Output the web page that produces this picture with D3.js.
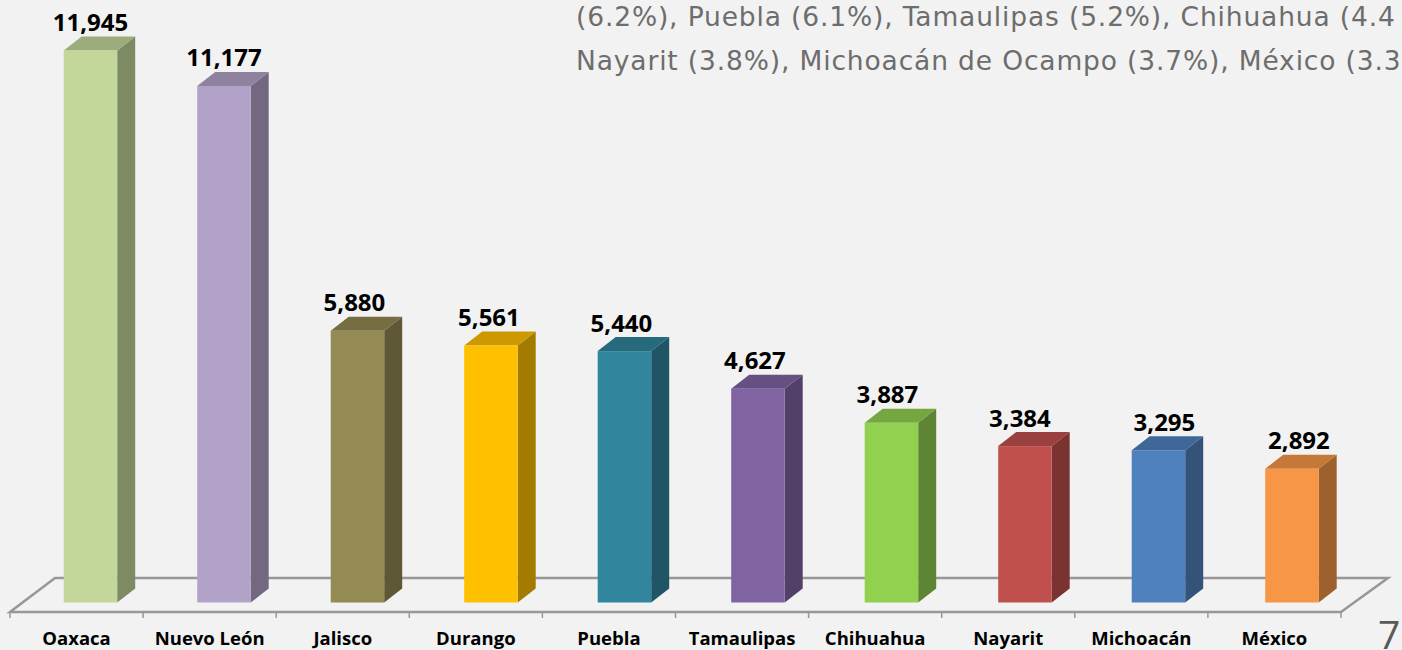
<!DOCTYPE html>
<html>
<head>
<meta charset="utf-8">
<script src="https://cdn.jsdelivr.net/npm/d3@7"></script>
<style>
    html, body { margin: 0; padding: 0; background: #f2f2f2; overflow: hidden; }
    svg { display: block; }
    .value { font: bold 24px "Open Sans", sans-serif; fill: #000; text-anchor: middle; }
    .cat { font: bold 18.5px "Open Sans", sans-serif; fill: #000; text-anchor: middle; }
    .note { font: 26.5px "DejaVu Sans", sans-serif; letter-spacing: .85px; fill: #6d6d6d; }
    .page { font: 400 39px "Open Sans", sans-serif; fill: #595959; }
</style>
</head>
<body>
<div id="main"></div>
<script>
///////////
// SETUP //
///////////

const states = ["Oaxaca", "Nuevo León", "Jalisco", "Durango", "Puebla",
    "Tamaulipas", "Chihuahua", "Nayarit", "Michoacán", "México"]
const values = [11945, 11177, 5880, 5561, 5440, 4627, 3887, 3384, 3295, 2892]
// only the part of the sentence the picture shows
const note_lines = [
    "(6.2%), Puebla (6.1%), Tamaulipas (5.2%), Chihuahua (4.4",
    "Nayarit (3.8%), Michoacán de Ocampo (3.7%), México (3.3"
]
const page_number = "7"

const colors = ["#c4d79b", "#b3a2c7", "#948a54", "#ffc000", "#31859c",
    "#8064a2", "#92d050", "#c0504d", "#4f81bd", "#f79646"]
// hand placed labels in the original, not centred on the bars
const label_nudge = [0, 0, -3, -2, -3, -3, -4, -5, 6, 7]

const width = 1402
const height = 650

const BASE_Y = 602.5
const BAR_W = 53.5
const BAR_OFFSET = 53.7
const DEPTH_X = 18
const DEPTH_Y = 14

// axis slots
const x = d3.scaleBand()
    .domain(states)
    .range([10, 1341])

// bars sit on a slightly wider step than the axis slots
const x_bar = d3.scaleBand()
    .domain(states)
    .range([10, 1345])

const y = d3.scaleLinear()
    .domain([0, 11945])
    .range([BASE_Y, 50.5])

//////////
// DRAW //
//////////
const svg = d3.select("#main").append("svg")
    .attr("width", width)
    .attr("height", height)

// floor
svg.append("path")
    .attr("d", "M10,612L55,578H1388L1341,612Z")
    .attr("fill", "none")
    .attr("stroke", "#979797")
    .attr("stroke-width", 2.5)

// axis ticks and labels
const axis = svg.append("g")
    .attr("transform", "translate(0,612)")
    .call(d3.axisBottom(x).tickSize(0).tickPadding(20))
axis.select(".domain").remove()
axis.selectAll("text")
    .attr("class", "cat")
    .attr("font-size", null)
    .attr("font-family", null)

svg.selectAll("line.tick")
    .data(d3.range(states.length + 1))
    .enter().append("line")
        .attr("class", "tick")
        .attr("x1", i => 10 + i * x.step())
        .attr("x2", i => 10 + i * x.step())
        .attr("y1", 612)
        .attr("y2", 618)
        .attr("stroke", "#979797")
        .attr("stroke-width", 1.5)

// bars
const bars = svg.selectAll("g.bar")
    .data(states)
    .enter().append("g")
        .attr("class", "bar")

const left = d => x_bar(d) + BAR_OFFSET
const val = (d) => values[states.indexOf(d)]
const shade = (d, k) => {
    const c = d3.rgb(colors[states.indexOf(d)])
    return d3.rgb(c.r * k, c.g * k, c.b * k).formatHex()
}

// side face
bars.append("path")
    .attr("d", d => {
        const r = left(d) + BAR_W, t = y(val(d))
        return `M${r},${t}l${DEPTH_X},${-DEPTH_Y}V${BASE_Y - DEPTH_Y}l${-DEPTH_X},${DEPTH_Y}Z`
    })
    .attr("fill", d => shade(d, .64))

// top face
bars.append("path")
    .attr("d", d => {
        const l = left(d), t = y(val(d))
        return `M${l},${t}l${DEPTH_X},${-DEPTH_Y}h${BAR_W}l${-DEPTH_X},${DEPTH_Y}Z`
    })
    .attr("fill", d => shade(d, .8))

// front face
bars.append("rect")
    .attr("x", left)
    .attr("y", d => y(val(d)))
    .attr("width", BAR_W)
    .attr("height", d => BASE_Y - y(val(d)))
    .attr("fill", d => colors[states.indexOf(d)])

// value labels
svg.selectAll("text.value")
    .data(states)
    .enter().append("text")
        .attr("class", "value")
        .attr("x", (d, i) => left(d) + BAR_W / 2 + label_nudge[i])
        .attr("y", d => y(val(d)) - DEPTH_Y - 5.5)
        .text(d => d3.format(",")(val(d)))

// note text, runs off the page in the original
svg.selectAll("text.note")
    .data(note_lines)
    .enter().append("text")
        .attr("class", "note")
        .attr("x", 576)
        .attr("y", (d, i) => 26 + i * 44)
        .text(d => d)

svg.append("text")
    .attr("class", "page")
    .attr("x", 1378)
    .attr("y", 649)
    .text(page_number)
</script>
</body>
</html>
